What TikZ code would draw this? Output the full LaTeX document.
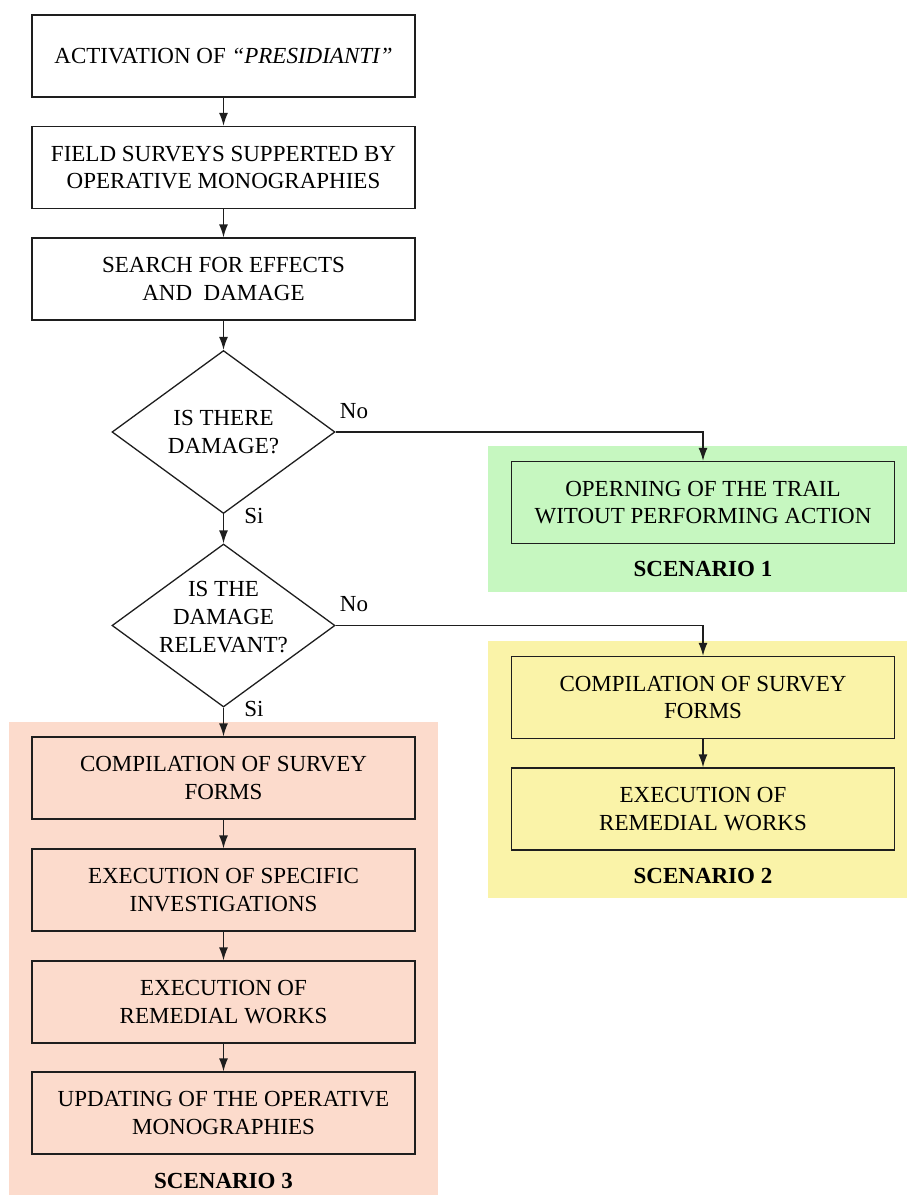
\documentclass[tikz,border=0pt]{standalone}
\usepackage{fontspec}
\setmainfont{Liberation Serif}
\usetikzlibrary{shapes.geometric,arrows.meta}
\definecolor{scgreen}{RGB}{198,247,192}
\definecolor{scyellow}{RGB}{250,243,168}
\definecolor{scred}{RGB}{252,219,204}
\definecolor{ln}{RGB}{30,30,30}
\tikzset{
  txt/.style={font=\fontsize{23}{27.7}\selectfont, align=center, text=black},
  stepbox/.style={txt, draw=ln, line width=1.3pt, minimum width=383pt, minimum height=82pt, inner sep=0pt},
  dia/.style={draw=ln, line width=1.3pt, shape=diamond, minimum width=223pt, minimum height=163pt, inner sep=0pt},
  conn/.style={draw=ln, line width=1.3pt, -{Latex[length=13pt,width=9pt]}},
  lab/.style={txt, inner sep=0pt},
  scen/.style={font=\fontsize{23}{27.7}\selectfont\bfseries, text=black, inner sep=0pt}
}
\begin{document}
\begin{tikzpicture}[x=1pt,y=-1pt]
\useasboundingbox (0,0) rectangle (907,1196);
% backgrounds
\fill[scgreen] (488,446) rectangle (907,592);
\fill[scyellow] (488,641) rectangle (907,898);
\fill[scred] (9,722) rectangle (438,1195);
% main column
\node[stepbox] (b1) at (223.5,56) {ACTIVATION OF \textit{``PRESIDIANTI''}};
\node[stepbox] (b2) at (223.5,167.5) {FIELD SURVEYS SUPPERTED BY\\OPERATIVE MONOGRAPHIES};
\node[stepbox] (b3) at (223.5,279) {SEARCH FOR EFFECTS\\AND\ \ DAMAGE};
\node[dia] (d1) at (223.5,432) {};
\node[lab] (d1t) at (223.5,432) {IS THERE\\DAMAGE?};
\node[dia] (d2) at (223.5,625.5) {};
\node[lab] (d2t) at (223.5,617) {IS THE\\DAMAGE\\RELEVANT?};
% scenario 1
\node[stepbox] (g1) at (703,502.5) {OPERNING OF THE TRAIL\\WITOUT PERFORMING ACTION};
\node[scen] (s1) at (703,569) {SCENARIO 1};
% scenario 2
\node[stepbox] (y1) at (703,697.5) {COMPILATION OF SURVEY\\FORMS};
\node[stepbox] (y2) at (703,809) {EXECUTION OF\\REMEDIAL WORKS};
\node[scen] (s2) at (703,876) {SCENARIO 2};
% scenario 3
\node[stepbox] (r1) at (223.5,778) {COMPILATION OF SURVEY\\FORMS};
\node[stepbox] (r2) at (223.5,890) {EXECUTION OF SPECIFIC\\INVESTIGATIONS};
\node[stepbox] (r3) at (223.5,1002) {EXECUTION OF\\REMEDIAL WORKS};
\node[stepbox] (r4) at (223.5,1113) {UPDATING OF THE OPERATIVE\\MONOGRAPHIES};
\node[scen] (s3) at (223.5,1181) {SCENARIO 3};
% labels
\node[lab] (no1) at (354,411) {No};
\node[lab] (no2) at (354,604) {No};
\node[lab] (si1) at (254,516) {Si};
\node[lab] (si2) at (254,709) {Si};
% connectors
\draw[conn] (b1) -- (b2);
\draw[conn] (b2) -- (b3);
\draw[conn] (b3) -- (d1.north);
\draw[conn] (d1.south) -- (d2.north);
\draw[conn] (d1.east) -| (g1.north);
\draw[conn] (d2.east) -| (y1.north);
\draw[conn] (y1) -- (y2);
\draw[conn] (d2.south) -- (r1.north);
\draw[conn] (r1) -- (r2);
\draw[conn] (r2) -- (r3);
\draw[conn] (r3) -- (r4);
\end{tikzpicture}
\end{document}
